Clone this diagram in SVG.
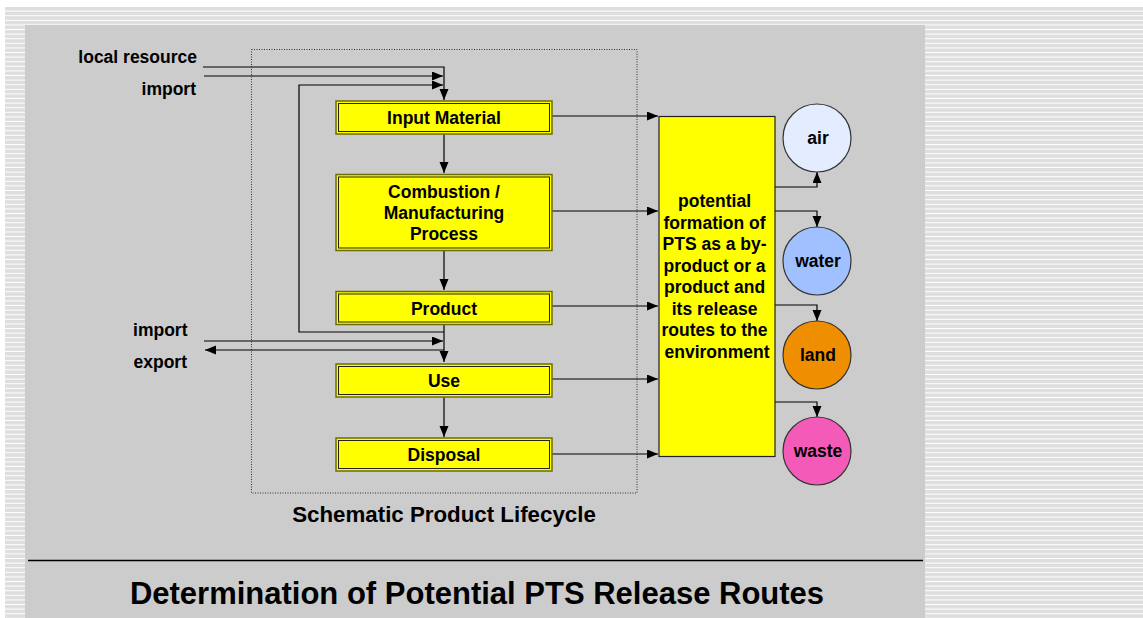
<svg xmlns="http://www.w3.org/2000/svg" width="1143" height="618" viewBox="0 0 1143 618">
<defs>
<pattern id="stripes" patternUnits="userSpaceOnUse" x="0" y="7" width="10" height="4.6">
<rect x="0" y="0" width="10" height="4.6" fill="#dedede"/>
<rect x="0" y="3.6" width="10" height="1" fill="#ffffff"/>
</pattern>
<marker id="arr" markerUnits="userSpaceOnUse" markerWidth="12" markerHeight="10" refX="11" refY="4.5" orient="auto">
<path d="M0,0 L11,4.5 L0,9 z" fill="#000"/>
</marker>
</defs>
<style>
text{font-family:"Liberation Sans",Arial,sans-serif;font-weight:bold;fill:#000}
.lbl{font-size:17.5px}
.mid{text-anchor:middle}
.end{text-anchor:end}
.outer{fill:#ffff00;stroke:#6e6e00;stroke-width:1.5}
.inner{fill:none;stroke:#222;stroke-width:1}
.conn path{fill:none;stroke:#000;stroke-width:1.2}
.circ{stroke:#333;stroke-width:1.2}
</style>
<rect x="0" y="0" width="1143" height="618" fill="#fff"/>
<rect x="5" y="7" width="1138" height="611" fill="url(#stripes)"/>
<rect x="25" y="25" width="900" height="593" fill="#cccccc"/>
<line x1="28" y1="560.5" x2="923" y2="560.5" stroke="#000" stroke-width="1.5"/>
<text x="477" y="604" class="mid" style="font-size:31px">Determination of Potential PTS Release Routes</text>

<rect x="251.5" y="49.5" width="385.5" height="443.5" fill="none" stroke="#333" stroke-width="1" stroke-dasharray="1,1.5"/>
<text x="444" y="522" class="mid" style="font-size:22.3px">Schematic Product Lifecycle</text>

<text x="197" y="63" class="lbl end">local resource</text>
<text x="196" y="95" class="lbl end">import</text>
<text x="187.5" y="336" class="lbl end">import</text>
<text x="187" y="368" class="lbl end">export</text>

<g id="conns" class="conn">
<path d="M203,67 H444 V100" marker-end="url(#arr)"/>
<path d="M204,76 H443" marker-end="url(#arr)"/>
<path d="M444,332 H299 V85 H443" marker-end="url(#arr)"/>
<path d="M444,134 V173" marker-end="url(#arr)"/>
<path d="M444,250 V290" marker-end="url(#arr)"/>
<path d="M444,324 V362" marker-end="url(#arr)"/>
<path d="M204,341 H443" marker-end="url(#arr)"/>
<path d="M444,350 H205" marker-end="url(#arr)"/>
<path d="M444,397 V437" marker-end="url(#arr)"/>
<path d="M552,116 H658" marker-end="url(#arr)"/>
<path d="M552,211 H658" marker-end="url(#arr)"/>
<path d="M552,306 H658" marker-end="url(#arr)"/>
<path d="M552,379 H658" marker-end="url(#arr)"/>
<path d="M552,454 H658" marker-end="url(#arr)"/>
<path d="M775,187 H817 V172" marker-end="url(#arr)"/>
<path d="M775,211 H817 V227" marker-end="url(#arr)"/>
<path d="M775,305 H817 V321" marker-end="url(#arr)"/>
<path d="M775,402 H817 V417" marker-end="url(#arr)"/>
</g>

<g id="input-material">
<rect class="outer" x="336" y="101" width="216" height="33"/>
<rect class="inner" x="338.5" y="103.5" width="211" height="28"/>
<text x="444" y="123.5" class="lbl mid">Input Material</text>
</g>
<g id="combustion">
<rect class="outer" x="336" y="174.5" width="216" height="76"/>
<rect class="inner" x="338.5" y="177" width="211" height="71"/>
<text x="444" y="198" class="lbl mid">Combustion /</text>
<text x="444" y="219" class="lbl mid">Manufacturing</text>
<text x="444" y="240" class="lbl mid">Process</text>
</g>
<g id="product">
<rect class="outer" x="336" y="291.5" width="216" height="33"/>
<rect class="inner" x="338.5" y="294" width="211" height="28"/>
<text x="444" y="314.5" class="lbl mid">Product</text>
</g>
<g id="use">
<rect class="outer" x="336" y="364" width="216" height="33"/>
<rect class="inner" x="338.5" y="366.5" width="211" height="28"/>
<text x="444" y="386.5" class="lbl mid">Use</text>
</g>
<g id="disposal">
<rect class="outer" x="336" y="438" width="216" height="33"/>
<rect class="inner" x="338.5" y="440.5" width="211" height="28"/>
<text x="444" y="461" class="lbl mid">Disposal</text>
</g>

<g id="pts-box">
<rect x="659" y="116.5" width="116" height="340" fill="#ffff00" stroke="#222" stroke-width="1.2"/>
<text class="lbl mid">
<tspan x="717" y="207">potential</tspan>
<tspan x="717" y="228.5">formation of</tspan>
<tspan x="717" y="250">PTS as a by-</tspan>
<tspan x="717" y="271.5">product or a</tspan>
<tspan x="717" y="293">product and</tspan>
<tspan x="717" y="314.5">its release</tspan>
<tspan x="717" y="336">routes to the</tspan>
<tspan x="717" y="357.5">environment</tspan>
</text>
</g>

<g id="air">
<circle class="circ" cx="817" cy="138" r="34" fill="#e4ecff"/>
<text x="818" y="144" class="lbl mid">air</text>
</g>
<g id="water">
<circle class="circ" cx="817" cy="261" r="34" fill="#a0c0ff"/>
<text x="818" y="267" class="lbl mid">water</text>
</g>
<g id="land">
<circle class="circ" cx="817" cy="355" r="34" fill="#ee8e00"/>
<text x="818" y="361" class="lbl mid">land</text>
</g>
<g id="waste">
<circle class="circ" cx="817" cy="451" r="34" fill="#f45bb9"/>
<text x="818" y="457" class="lbl mid">waste</text>
</g>
</svg>
